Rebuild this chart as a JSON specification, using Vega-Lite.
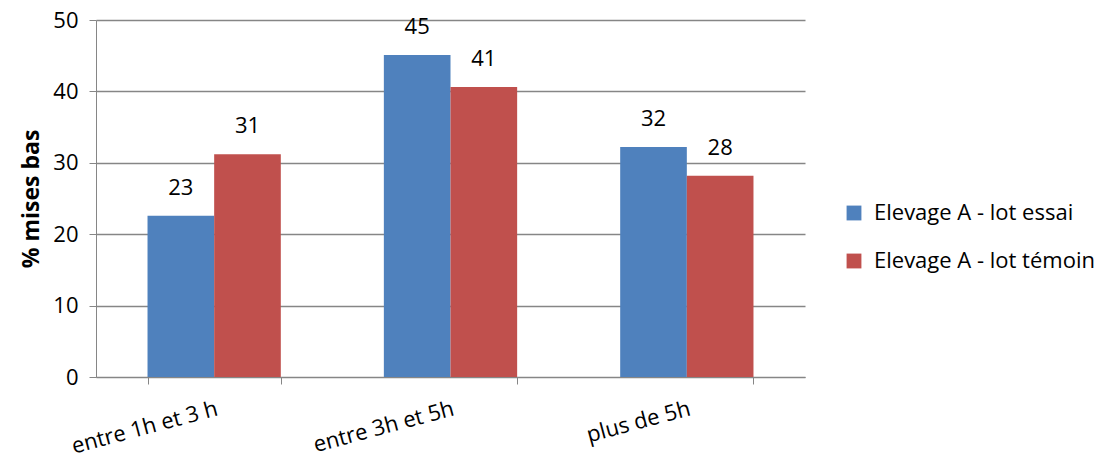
{
  "$schema": "https://vega.github.io/schema/vega-lite/v6.json",
  "autosize": "none",
  "width": 709,
  "height": 357,
  "padding": {"left": 96, "top": 20, "right": 307, "bottom": 86},
  "background": "white",
  "config": {
    "font": "Open Sans",
    "view": {"stroke": null}
  },
  "data": {
    "values": [
      {"duree": "entre 1h et 3 h", "serie": "Elevage A - lot essai", "pct": 22.6},
      {"duree": "entre 1h et 3 h", "serie": "Elevage A - lot témoin", "pct": 31.2},
      {"duree": "entre 3h et 5h", "serie": "Elevage A - lot essai", "pct": 45.1},
      {"duree": "entre 3h et 5h", "serie": "Elevage A - lot témoin", "pct": 40.6},
      {"duree": "plus de 5h", "serie": "Elevage A - lot essai", "pct": 32.2},
      {"duree": "plus de 5h", "serie": "Elevage A - lot témoin", "pct": 28.2}
    ]
  },
  "encoding": {
    "x": {
      "field": "duree", "type": "nominal", "sort": null,
      "scale": {"paddingInner": 0.436, "paddingOuter": 0.218},
      "axis": {
        "title": null, "labelAngle": -15, "labelAlign": "right", "labelBaseline": "top",
        "labelFontSize": 22, "labelColor": "#000", "labelPadding": 14, "labelOffset": 0,
        "tickBand": "extent", "tickSize": 7, "tickColor": "#868686", "domainColor": "#868686",
        "grid": false
      }
    },
    "xOffset": {"field": "serie", "type": "nominal", "sort": null},
    "y": {
      "field": "pct", "type": "quantitative",
      "scale": {"domain": [0, 50]},
      "axis": {
        "title": "% mises bas", "titleFontSize": 23, "titleFontWeight": "bold", "titleColor": "#000",
        "titlePadding": 9,
        "values": [0, 10, 20, 30, 40, 50], "labelFontSize": 22, "labelColor": "#000", "labelPadding": 11,
        "tickSize": 7, "tickColor": "#868686", "domainColor": "#868686",
        "grid": true, "gridColor": "#868686", "gridWidth": 1.3
      }
    }
  },
  "layer": [
    {
      "mark": {"type": "bar"},
      "encoding": {
        "color": {
          "field": "serie", "type": "nominal", "sort": null,
          "scale": {"range": ["#4F81BD", "#C0504D"]},
          "legend": {
            "title": null, "orient": "none", "legendX": 747, "legendY": 182,
            "labelFontSize": 22, "labelColor": "#000", "labelLimit": 400,
            "symbolType": "square", "symbolSize": 220,
            "rowPadding": 26, "labelOffset": 9
          }
        }
      }
    },
    {
      "mark": {"type": "text", "dy": -16, "fontSize": 22, "color": "#000", "baseline": "bottom"},
      "encoding": {
        "text": {"field": "pct", "type": "quantitative", "format": ".0f"}
      }
    }
  ]
}
